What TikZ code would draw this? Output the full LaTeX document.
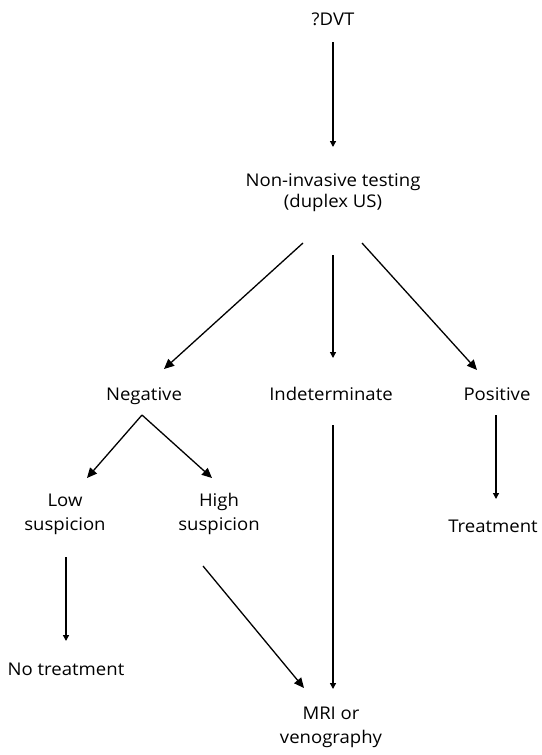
\documentclass[tikz,border=0pt]{standalone}
\usepackage{fontspec}
\setmainfont{Open Sans}[FakeStretch=1.06]
\usetikzlibrary{arrows.meta}
\begin{document}
\begin{tikzpicture}[x=1pt,y=-1pt,
  lbl/.style={font=\fontsize{17.5}{24}\selectfont, align=center, inner sep=0pt, anchor=base},
  flow/.style={line width=1.3pt, -{Triangle[length=10pt,width=9pt]}},
  down/.style={line width=1.3pt, -{Triangle[length=6pt,width=6pt]}}]
\useasboundingbox (0,0) rectangle (541,755);

% decision nodes (placed by the baseline of their last line)
\node[lbl] (dvt) at (333,25) {?DVT};
\node[lbl, font=\fontsize{17.5}{21}\selectfont] (nit) at (333,207) {Non-invasive testing\\(duplex US)};
\node[lbl] (neg) at (144,400) {Negative};
\node[lbl] (ind) at (331,400) {Indeterminate};
\node[lbl] (pos) at (497,400) {Positive};
\node[lbl] (low) at (65,530) {Low\\suspicion};
\node[lbl] (high) at (219,530) {High\\suspicion};
\node[lbl] (treat) at (493,532) {Treatment};
\node[lbl] (notreat) at (66,675) {No treatment};
\node[lbl] (mri) at (331,743) {MRI or\\venography};

% connectors
\draw[down] ([shift={(0,17)}]dvt.base) -- ([shift={(0,-60)}]nit.base);
\draw[flow] ([shift={(-30,36)}]nit.base) -- ([shift={(20,-31)}]neg.base);
\draw[down] ([shift={(0,48)}]nit.base) -- ([shift={(2,-42)}]ind.base);
\draw[flow] ([shift={(29,36)}]nit.base) -- ([shift={(-20,-30)}]pos.base);
\draw[flow] ([shift={(-2,15)}]neg.base) -- ([shift={(22,-52)}]low.base);
\draw[flow] ([shift={(-2,15)}]neg.base) -- ([shift={(-7,-52)}]high.base);
\draw[down] ([shift={(1,27)}]low.base) -- ([shift={(0,-34)}]notreat.base);
\draw[flow] ([shift={(-16,36)}]high.base) -- ([shift={(-27,-55)}]mri.base);
\draw[down] ([shift={(2,25)}]ind.base) -- ([shift={(2,-54)}]mri.base);
\draw[down] ([shift={(-1,15)}]pos.base) -- ([shift={(3,-33)}]treat.base);
\end{tikzpicture}
\end{document}
